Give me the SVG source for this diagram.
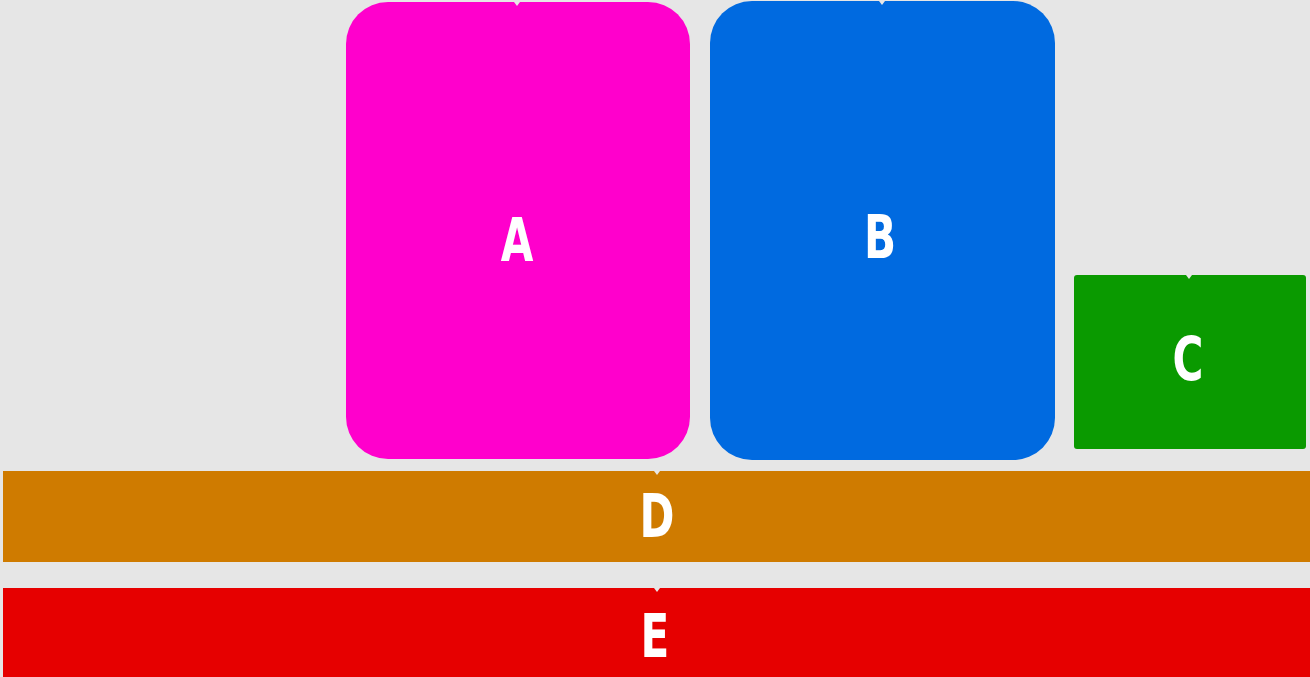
<svg xmlns="http://www.w3.org/2000/svg" width="1310" height="677" viewBox="0 0 1310 677">
<defs>
<style>
.lbl{font-family:"DejaVu Sans Condensed","DejaVu Sans",sans-serif;font-stretch:condensed;font-weight:bold;font-size:60px;fill:#ffffff;text-anchor:middle;dominant-baseline:central}
.notch{fill:#e8e8e8}
</style>
</defs>
<rect x="0" y="0" width="1310" height="677" fill="#e6e6e6"/>
<g id="node-A"><rect x="346" y="2" width="344" height="457" rx="42" ry="42" fill="#ff00cc"/><text class="lbl" transform="translate(517 240) scale(0.78 1)">A</text></g>
<g id="node-B"><rect x="710" y="1" width="345" height="459" rx="42" ry="42" fill="#006ae0"/><text class="lbl" transform="translate(880 237) scale(0.78 1)">B</text></g>
<g id="node-C"><rect x="1074" y="275" width="232" height="174" rx="3" ry="3" fill="#0a9a00"/><text class="lbl" transform="translate(1188 359) scale(0.78 1)">C</text></g>
<g id="node-D"><rect x="3" y="471" width="1307" height="91" fill="#cf7b00"/><text class="lbl" transform="translate(657 516) scale(0.78 1)">D</text></g>
<g id="node-E"><rect x="3" y="588" width="1307" height="89" fill="#e60000"/><text class="lbl" transform="translate(655 636) scale(0.78 1)">E</text></g>
<g id="connectors">
<path class="notch" d="M514 2 L520 2 L517 6 Z"/>
<path class="notch" d="M879 1 L885 1 L882 5 Z"/>
<path class="notch" d="M1186 275 L1192 275 L1189 279 Z"/>
<path class="notch" d="M654 471 L660 471 L657 475 Z"/>
<path class="notch" d="M654 588 L660 588 L657 592 Z"/>
</g>
</svg>
